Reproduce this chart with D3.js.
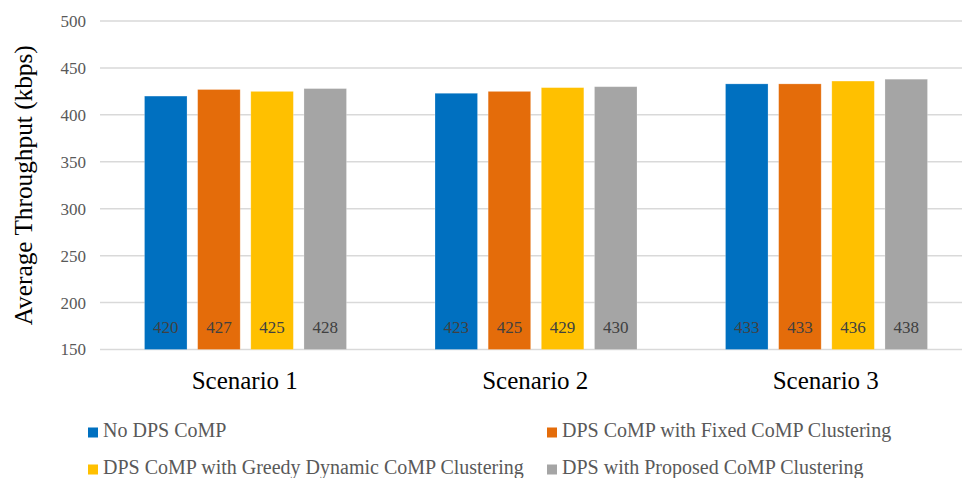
<!DOCTYPE html>
<html>
<head>
<meta charset="utf-8">
<script src="https://cdn.jsdelivr.net/npm/d3@7"></script>
<style>
  html, body { margin: 0; padding: 0; background: #fff; }
  svg { display: block; }
</style>
</head>
<body>
<svg id="chart" width="962" height="478"></svg>
<script>
// Scenarios along the x axis
const scenarios = ["Scenario 1", "Scenario 2", "Scenario 3"];
// Series names (legend order)
const seriesNames = [
  "No DPS CoMP",
  "DPS CoMP with Fixed CoMP Clustering",
  "DPS CoMP with Greedy Dynamic CoMP Clustering",
  "DPS with Proposed CoMP Clustering"
];
// Average throughput (kbps) per series, one value per scenario
const noDps        = [420, 423, 433];
const fixedComp    = [427, 425, 433];
const greedyComp   = [425, 429, 436];
const proposedComp = [428, 430, 438];
const seriesValues = [noDps, fixedComp, greedyComp, proposedComp];
// Y axis ticks
const yTicks = [150, 200, 250, 300, 350, 400, 450, 500];
const colors = ["#0070C0", "#E46C0A", "#FFC000", "#A5A5A5"];

const FONT = "Liberation Serif";

const svg = d3.select("#chart");
const plot = { left: 100, right: 971.5, top: 21, bottom: 349.5 };

const y = d3.scaleLinear().domain([150, 500]).range([plot.bottom, plot.top]);
const x0 = d3.scaleBand().domain(scenarios).range([plot.left, plot.right]).padding(0);
const x1 = d3.scaleBand().domain(d3.range(seriesNames.length))
  .range([44.5, 246.5]).paddingInner(0.2).paddingOuter(0.0);

// Gridlines
svg.append("g")
  .selectAll("line")
  .data(yTicks)
  .join("line")
  .attr("x1", plot.left).attr("x2", plot.right)
  .attr("y1", d => y(d)).attr("y2", d => y(d))
  .attr("stroke", "#d9d9d9").attr("stroke-width", 1.5);

// Y axis labels
const yAxis = d3.axisLeft(y).tickValues(yTicks).tickSize(0).tickPadding(14);
svg.append("g")
  .attr("transform", `translate(${plot.left},0)`)
  .call(yAxis)
  .call(g => g.select(".domain").remove())
  .call(g => g.selectAll("text")
    .attr("fill", "#595959")
    .attr("font-family", FONT)
    .attr("font-size", 17));

// Y axis title
svg.append("text")
  .attr("transform", `translate(32,${(plot.top + plot.bottom) / 2}) rotate(-90)`)
  .attr("text-anchor", "middle")
  .attr("fill", "#000")
  .attr("font-family", FONT)
  .attr("font-size", 25.3)
  .text("Average Throughput (kbps)");

// Bars
const groups = svg.append("g")
  .selectAll("g")
  .data(scenarios)
  .join("g")
  .attr("transform", d => `translate(${x0(d)},0)`);

groups.selectAll("rect")
  .data((d, i) => seriesValues.map((vals, s) => ({ s, v: vals[i] })))
  .join("rect")
  .attr("x", d => x1(d.s))
  .attr("width", x1.bandwidth())
  .attr("y", d => y(d.v))
  .attr("height", d => y(150) - y(d.v))
  .attr("fill", d => colors[d.s])
  .attr("stroke", "rgba(255,255,255,0.3)")
  .attr("stroke-width", 0.75);

// Value labels near the base of each bar
groups.selectAll("text.val")
  .data((d, i) => seriesValues.map((vals, s) => ({ s, v: vals[i] })))
  .join("text")
  .attr("class", "val")
  .attr("x", d => x1(d.s) + x1.bandwidth() / 2)
  .attr("y", y(150) - 16.5)
  .attr("text-anchor", "middle")
  .attr("fill", "#404040")
  .attr("font-family", FONT)
  .attr("font-size", 17)
  .text(d => d.v);

// Category labels
svg.append("g")
  .selectAll("text")
  .data(scenarios)
  .join("text")
  .attr("x", d => x0(d) + x0.bandwidth() / 2 - 0.5)
  .attr("y", 389)
  .attr("text-anchor", "middle")
  .attr("fill", "#000")
  .attr("font-family", FONT)
  .attr("font-size", 25)
  .text(d => d);

// Legend in two columns
const legendPos = [
  { x: 88, y: 437 }, { x: 547, y: 437 },
  { x: 88, y: 474 }, { x: 547, y: 474 }
];
const legend = svg.append("g")
  .selectAll("g")
  .data(seriesNames)
  .join("g")
  .attr("transform", (d, i) => `translate(${legendPos[i].x},${legendPos[i].y})`);
legend.append("rect")
  .attr("x", 0).attr("y", -9.5).attr("width", 10).attr("height", 10)
  .attr("fill", (d, i) => colors[i]);
legend.append("text")
  .attr("x", 15).attr("y", 0)
  .attr("fill", "#595959")
  .attr("font-family", FONT)
  .attr("font-size", 20)
  .text(d => d);
</script>
</body>
</html>
